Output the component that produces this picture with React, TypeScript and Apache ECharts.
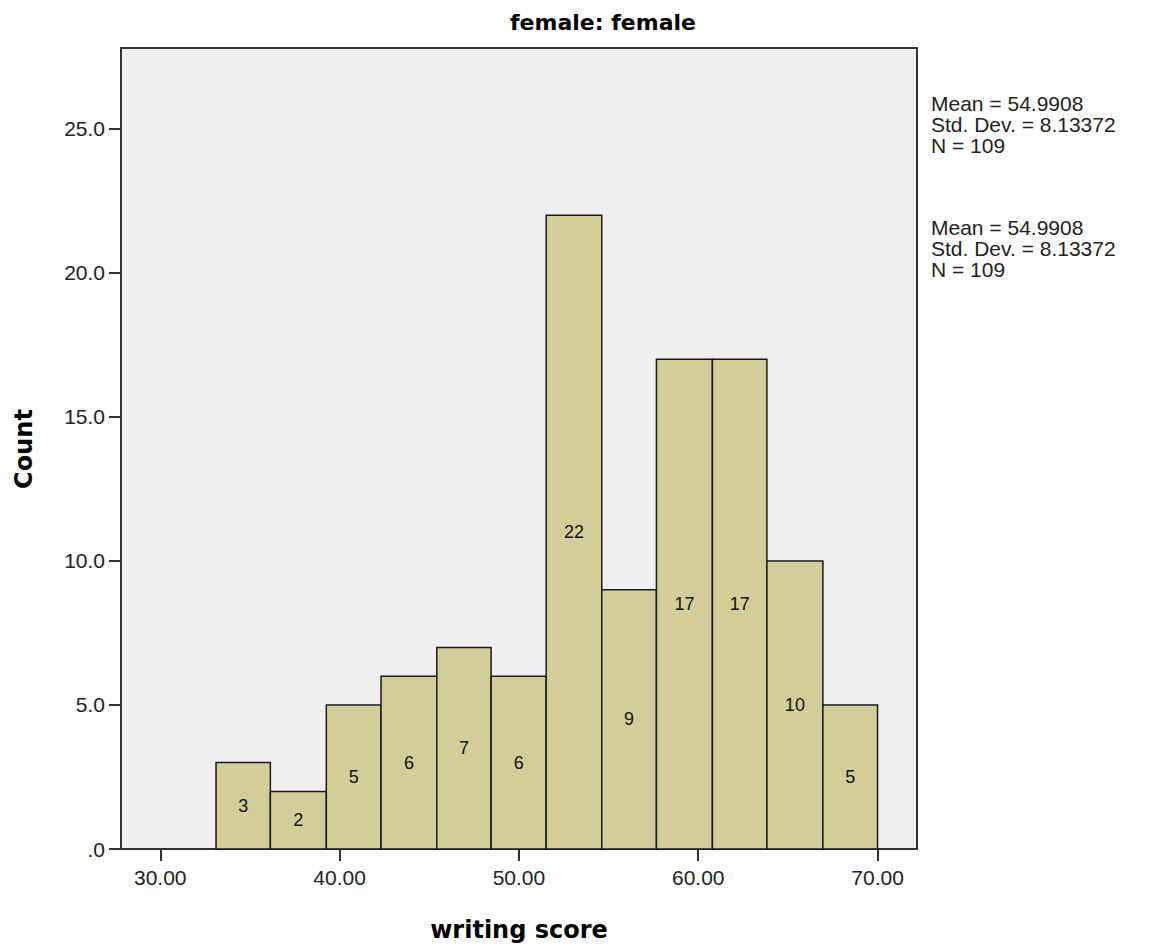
import React, { useEffect, useRef } from "react";
import * as echarts from "echarts";

// Histogram bin edges (writing score)
const binEdges = [33.11, 36.14, 39.26, 42.31, 45.42, 48.45, 51.52, 54.62, 57.67, 60.79, 63.83, 66.95, 70.0];
// Counts per bin
const counts = [3, 2, 5, 6, 7, 6, 22, 9, 17, 17, 10, 5];
// Axis tick values
const xTicks = [30, 40, 50, 60, 70];
const yTicks = [0, 5, 10, 15, 20, 25];
// Texts
const titleText = "female: female";
const xName = "writing score";
const yName = "Count";
const statsLines = ["Mean = 54.9908", "Std. Dev. = 8.13372", "N = 109"];

const SANS = "'Liberation Sans', Arial, sans-serif";
const BOLD = "'DejaVu Sans', Verdana, sans-serif";

export default function App() {
  const ref = useRef<HTMLDivElement>(null);
  useEffect(() => {
    if (!ref.current) return;
    const chart = echarts.init(ref.current, null, { renderer: "svg" });
    const data = counts.map((c, i) => [binEdges[i], binEdges[i + 1], c]);
    chart.setOption({
      animation: false,
      backgroundColor: "#ffffff",
      grid: {
        left: 121,
        right: 243,
        top: 48,
        bottom: 98,
        show: true,
        backgroundColor: "#efefef",
        borderColor: "#333333",
        borderWidth: 2,
      },
      xAxis: {
        type: "value",
        min: 27.81,
        max: 72.2,
        axisLine: { show: false },
        splitLine: { show: false },
        axisTick: {
          show: true,
          customValues: xTicks,
          length: 12,
          lineStyle: { color: "#333333", width: 2 },
        },
        axisLabel: {
          customValues: xTicks,
          formatter: (v: number) => v.toFixed(2),
          fontSize: 21,
          fontFamily: SANS,
          color: "#222222",
          margin: 18,
        },
      },
      yAxis: {
        type: "value",
        min: 0,
        max: 27.81,
        axisLine: { show: false },
        splitLine: { show: false },
        axisTick: {
          show: true,
          customValues: yTicks,
          length: 12,
          lineStyle: { color: "#333333", width: 2 },
        },
        axisLabel: {
          customValues: yTicks,
          formatter: (v: number) => (v === 0 ? ".0" : v.toFixed(1)),
          fontSize: 21,
          fontFamily: SANS,
          color: "#222222",
          margin: 16,
          padding: [11, 0, 0, 0],
        },
      },
      series: [
        {
          type: "custom",
          data,
          encode: { x: [0, 1], y: 2 },
          renderItem: (params: any, api: any) => {
            const p0 = api.coord([api.value(0), 0]);
            const p1 = api.coord([api.value(1), api.value(2)]);
            const x = p0[0];
            const w = p1[0] - p0[0];
            const y = p1[1];
            const h = p0[1] - p1[1];
            return {
              type: "group",
              children: [
                {
                  type: "rect",
                  shape: { x, y, width: w, height: h },
                  style: { fill: "#d3ce98", stroke: "#1a1a1a", lineWidth: 1.5 },
                },
                {
                  type: "text",
                  x: x + w / 2,
                  y: y + h / 2,
                  style: {
                    text: String(api.value(2)),
                    fontSize: 18,
                    fontFamily: SANS,
                    fill: "#111111",
                    align: "center",
                    verticalAlign: "middle",
                  },
                },
              ],
            };
          },
        },
      ],
      graphic: [
        {
          type: "text",
          x: 603,
          y: 22,
          style: {
            text: titleText,
            fontSize: 22,
            fontWeight: "bold",
            fontFamily: BOLD,
            fill: "#000000",
            align: "center",
            verticalAlign: "middle",
          },
        },
        {
          type: "text",
          x: 519,
          y: 930,
          style: {
            text: xName,
            fontSize: 24,
            fontWeight: "bold",
            fontFamily: BOLD,
            fill: "#000000",
            align: "center",
            verticalAlign: "middle",
          },
        },
        {
          type: "text",
          x: 24,
          y: 449,
          rotation: Math.PI / 2,
          style: {
            text: yName,
            fontSize: 24,
            fontWeight: "bold",
            fontFamily: BOLD,
            fill: "#000000",
            align: "center",
            verticalAlign: "middle",
          },
        },
        {
          type: "text",
          x: 931,
          y: 93,
          style: {
            text: statsLines.join("\n"),
            fontSize: 21,
            lineHeight: 21,
            fontFamily: SANS,
            fill: "#222222",
            align: "left",
            verticalAlign: "top",
          },
        },
        {
          type: "text",
          x: 931,
          y: 217,
          style: {
            text: statsLines.join("\n"),
            fontSize: 21,
            lineHeight: 21,
            fontFamily: SANS,
            fill: "#222222",
            align: "left",
            verticalAlign: "top",
          },
        },
      ],
    });
    return () => chart.dispose();
  }, []);
  return (
    <div
      ref={ref}
      style={{ position: "fixed", left: 0, top: 0, width: 1160, height: 947 }}
    />
  );
}
